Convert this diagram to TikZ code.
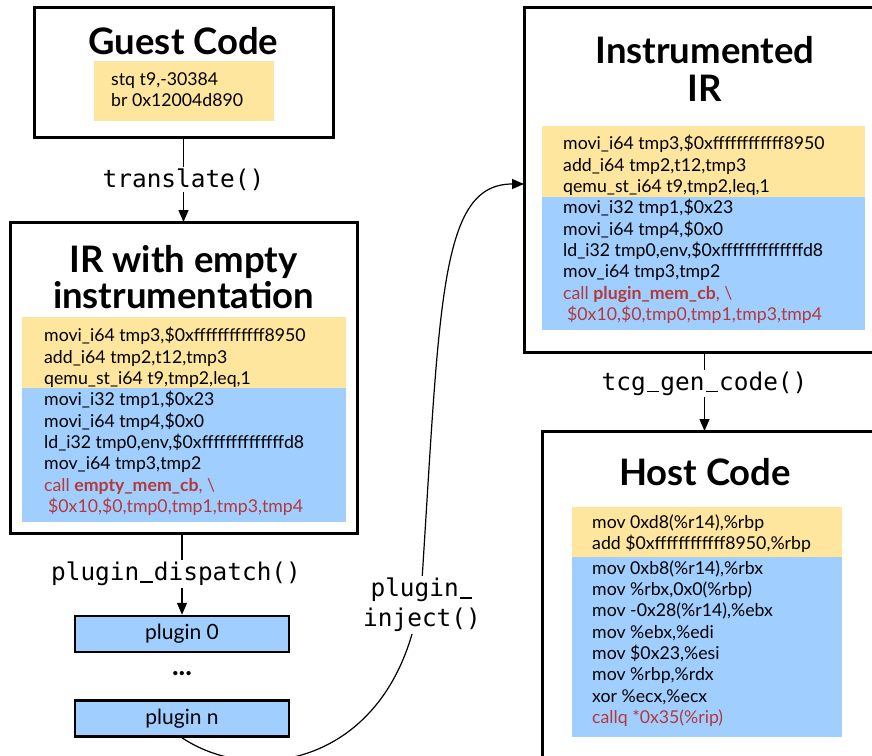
\documentclass[tikz,border=0pt]{standalone}
\usepackage{fontspec}
\setmainfont{Lato}
\newfontfamily\monofont{DejaVu Sans Mono}
\usetikzlibrary{arrows.meta}
\definecolor{codey}{HTML}{FFE69E}
\definecolor{codeb}{HTML}{A0CFFF}
\definecolor{codered}{HTML}{B5383A}
\newcommand\monous{\makebox[0.602em][c]{\rule[-2pt]{0.52em}{1.4pt}}}
\begin{document}
\begin{tikzpicture}[x=1pt,y=-1pt,
 frame/.style={draw=black,line width=3pt,anchor=north west,inner sep=0pt,outer sep=0pt},
 ybg/.style={fill=codey,anchor=north west,inner sep=0pt,outer sep=0pt},
 bbg/.style={fill=codeb,anchor=north west,inner sep=0pt,outer sep=0pt},
 code/.style={anchor=west,align=left,inner sep=0pt,font=\fontsize{17.7}{21.3}\selectfont},
 title/.style={align=center,inner sep=0pt,font=\fontsize{36.5}{36}\selectfont\bfseries},
 lbl/.style={fill=white,inner sep=2pt,font=\monofont\fontsize{24.4}{30}\selectfont},
 arr/.style={line width=1.2pt,-{Triangle[length=12pt,width=10pt]}},
 plug/.style={draw,line width=2.5pt,fill=codeb,minimum width=214pt,minimum height=36pt,inner sep=0pt,font=\fontsize{21}{24}\selectfont}]
\useasboundingbox (0,0) rectangle (872,755);
% Guest code
\node[frame,minimum width=299pt,minimum height=130pt] (guest) at (34,7) {};
\node[title] (guestT) at (183.5,41) {Guest Code};
\node[ybg,minimum width=180pt,minimum height=60pt] (guestY) at (94,61) {};
\node[code] (guestYt) at (111,90) {stq t9,-30384\\br 0x12004d890};
% IR with empty instrumentation
\node[frame,minimum width=347pt,minimum height=311pt] (ir) at (10,222) {};
\node[title] (irT) at (183.5,277) {IR with empty\\instrumentation};
\node[ybg,minimum width=324pt,minimum height=71pt] (irY) at (22,317) {};
\node[bbg,minimum width=324pt,minimum height=134pt] (irB) at (22,388) {};
\node[code] (irYt) at (44,357.5) {movi\_i64 tmp3,\$0xffffffffffff8950\\add\_i64 tmp2,t12,tmp3\\qemu\_st\_i64 t9,tmp2,leq,1};
\node[code] (irBt) at (44,453.5) {movi\_i32 tmp1,\$0x23\\movi\_i64 tmp4,\$0x0\\ld\_i32 tmp0,env,\$0xffffffffffffffd8\\mov\_i64 tmp3,tmp2\\{\color{codered}call \textbf{empty\_mem\_cb}, \textbackslash}\\{\color{codered}\hspace*{4pt}\$0x10,\$0,tmp0,tmp1,tmp3,tmp4}};
% plugins
\node[plug] (p0) at (182,634) {plugin 0};
\node[inner sep=0pt,font=\fontsize{28}{28}\selectfont\bfseries] (dots) at (182,674) {...};
\node[plug] (pn) at (182,718.5) {plugin n};
% Instrumented IR
\node[frame,minimum width=361pt,minimum height=345pt] (ins) at (524,7) {};
\node[title,font=\fontsize{36.5}{38}\selectfont\bfseries] (insT) at (705,69) {Instrumented\\IR};
\node[ybg,minimum width=323pt,minimum height=71pt] (insY) at (542,126) {};
\node[bbg,minimum width=323pt,minimum height=133pt] (insB) at (542,197) {};
\node[code] (insYt) at (563,165.5) {movi\_i64 tmp3,\$0xffffffffffff8950\\add\_i64 tmp2,t12,tmp3\\qemu\_st\_i64 t9,tmp2,leq,1};
\node[code] (insBt) at (563,261.5) {movi\_i32 tmp1,\$0x23\\movi\_i64 tmp4,\$0x0\\ld\_i32 tmp0,env,\$0xffffffffffffffd8\\mov\_i64 tmp3,tmp2\\{\color{codered}call \textbf{plugin\_mem\_cb}, \textbackslash}\\{\color{codered}\hspace*{4pt}\$0x10,\$0,tmp0,tmp1,tmp3,tmp4}};
% Host code
\node[frame,minimum width=343pt,minimum height=339pt] (host) at (542,431) {};
\node[title] (hostT) at (705,472) {Host Code};
\node[ybg,minimum width=270pt,minimum height=50pt] (hostY) at (572,507) {};
\node[bbg,minimum width=270pt,minimum height=180pt] (hostB) at (572,557) {};
\node[code] (hostYt) at (592,533.5) {mov 0xd8(\%r14),\%rbp\\add \$0xffffffffffff8950,\%rbp};
\node[code] (hostBt) at (592,643.5) {mov 0xb8(\%r14),\%rbx\\mov \%rbx,0x0(\%rbp)\\mov -0x28(\%r14),\%ebx\\mov \%ebx,\%edi\\mov \$0x23,\%esi\\mov \%rbp,\%rdx\\xor \%ecx,\%ecx\\{\color{codered}callq *0x35(\%rip)}};
% connectors
\draw[arr] (guest.south) -- node[lbl] (lt) {translate()} (ir.north);
\draw[arr] (p0.north |- ir.south) -- node[lbl,xshift=-6pt] (ld) {plugin\monous dispatch()} (p0.north);
\draw[arr] (ins.south) -- node[lbl,pos=0.4] (lg) {tcg\monous gen\monous code()} (ins.south |- host.north);
\coordinate (mid) at (422,580);
\path (ins.north west) ++(0,177) coordinate (inend);
\draw[arr] (pn.south) .. controls (260,790) and (405,760) .. (mid) .. controls (440,300) and (440,184) .. (inend);
\node[lbl,align=center,font=\monofont\fontsize{24.4}{30}\selectfont] (li) at (422,605) {plugin\monous\\inject()};
\end{tikzpicture}
\end{document}
